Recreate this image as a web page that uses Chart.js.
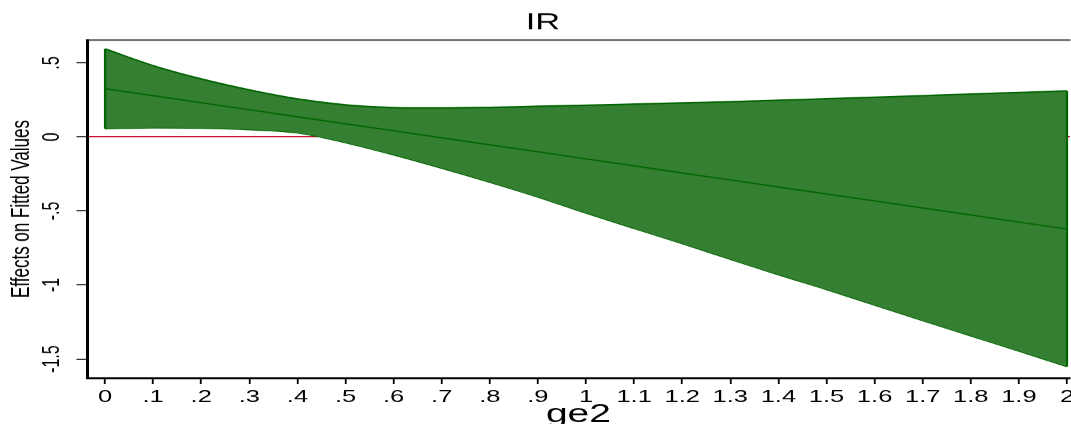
<!DOCTYPE html>
<html>
<head>
<meta charset="utf-8">
<script src="https://cdn.jsdelivr.net/npm/chart.js@4/dist/chart.umd.min.js"></script>
<style>
  html, body { margin: 0; padding: 0; background: #fff; overflow: hidden; }
  /* the reference graph is stretched sideways, so draw narrow and stretch */
  #wrap { width: 714px; height: 424px; transform: scaleX(1.5); transform-origin: 0 0; }
</style>
</head>
<body>
<div id="wrap"><canvas id="ir"></canvas></div>
<script>
// values
const ge2   = [0, 0.1, 0.2, 0.3, 0.4, 0.5, 0.6, 0.7, 0.8, 0.9, 1.0, 1.1, 1.2, 1.3, 1.4, 1.5, 1.6, 1.7, 1.8, 1.9, 2.0];
const fit   = [0.326, 0.279, 0.231, 0.184, 0.136, 0.089, 0.042, -0.006, -0.053, -0.100, -0.148, -0.195, -0.243, -0.290, -0.338, -0.385, -0.432, -0.480, -0.527, -0.575, -0.622];
const upper = [0.595, 0.482, 0.392, 0.318, 0.257, 0.217, 0.199, 0.196, 0.200, 0.207, 0.214, 0.222, 0.230, 0.238, 0.248, 0.258, 0.268, 0.279, 0.290, 0.300, 0.311];
const lower = [0.056, 0.062, 0.060, 0.050, 0.028, -0.038, -0.120, -0.210, -0.305, -0.405, -0.514, -0.617, -0.720, -0.825, -0.930, -1.030, -1.135, -1.240, -1.343, -1.446, -1.550];

const xTickValues = [0, 0.1, 0.2, 0.3, 0.4, 0.5, 0.6, 0.7, 0.8, 0.9, 1, 1.1, 1.2, 1.3, 1.4, 1.5, 1.6, 1.7, 1.8, 1.9, 2];
const xTickLabels = ['0', '.1', '.2', '.3', '.4', '.5', '.6', '.7', '.8', '.9', '1', '1.1', '1.2', '1.3', '1.4', '1.5', '1.6', '1.7', '1.8', '1.9', '2'];
const yTickValues = [-1.5, -1, -0.5, 0, 0.5];
const yTickLabels = ['-1.5', '-1', '-.5', '0', '.5'];

const bandFill = '#357f32';
const bandEdge = '#006400';
const zeroRed = '#c8102e';
const sans = 'Liberation Sans, Arial, sans-serif';

const pts = ys => ge2.map((x, i) => ({ x: x, y: ys[i] }));
const last = ge2.length - 1;

const ctx = document.getElementById('ir').getContext('2d');
new Chart(ctx, {
  type: 'line',
  data: {
    datasets: [
      { // fitted line on top
        data: pts(fit),
        borderColor: bandEdge, borderWidth: 1.3, pointRadius: 0, fill: false
      },
      { // closing edges of the band
        data: [{ x: ge2[0], y: lower[0] }, { x: ge2[0], y: upper[0] }],
        borderColor: bandEdge, borderWidth: 1.5, pointRadius: 0, fill: false
      },
      {
        data: [{ x: ge2[last], y: lower[last] }, { x: ge2[last], y: upper[last] }],
        borderColor: bandEdge, borderWidth: 1.5, pointRadius: 0, fill: false
      },
      { // upper bound, filled down to lower bound
        data: pts(upper),
        borderColor: bandEdge, borderWidth: 1.5, pointRadius: 0,
        cubicInterpolationMode: 'monotone',
        backgroundColor: bandFill, fill: '+1'
      },
      {
        data: pts(lower),
        borderColor: bandEdge, borderWidth: 1.5, pointRadius: 0,
        cubicInterpolationMode: 'monotone', fill: false
      }
    ]
  },
  options: {
    responsive: true,
    maintainAspectRatio: false,
    devicePixelRatio: 1.5,
    animation: false,
    layout: { padding: { left: 10, right: 0, top: 0, bottom: 0 } },
    plugins: {
      legend: { display: false },
      tooltip: { enabled: false },
      title: {
        display: true,
        text: 'IR',
        color: '#000',
        font: { family: sans, size: 23, weight: 'normal' },
        padding: { top: 9, bottom: 3.4 }
      }
    },
    scales: {
      x: {
        type: 'linear',
        position: 'bottom',
        min: -0.0375,
        max: 2.006,
        afterBuildTicks: s => { s.ticks = xTickValues.map(v => ({ value: v })); },
        afterFit: s => { s.height = 46; s.paddingLeft = 0; s.paddingRight = 0; },
        ticks: {
          autoSkip: false, maxRotation: 0, minRotation: 0,
          color: '#000', padding: 3,
          font: { family: sans, size: 17 },
          callback: (v, i) => xTickLabels[i]
        },
        grid: { drawOnChartArea: false, drawTicks: true, tickLength: 6, tickColor: '#000', tickWidth: 1.2 },
        border: { display: true, color: '#000', width: 2 },
        title: {
          display: true, text: 'ge2', color: '#000',
          font: { family: sans, size: 26, lineHeight: 0.7 },
          padding: 0
        }
      },
      x2: {
        type: 'linear',
        position: 'top',
        min: -0.0375,
        max: 2.006,
        afterFit: s => { s.height = 0; s.paddingLeft = 0; s.paddingRight = 0; },
        ticks: { display: false },
        grid: { drawOnChartArea: false, drawTicks: false },
        border: { display: true, color: '#555', width: 1.5 }
      },
      y: {
        type: 'linear',
        position: 'left',
        min: -1.628,
        max: 0.655,
        afterBuildTicks: s => { s.ticks = yTickValues.map(v => ({ value: v })); },
        afterFit: s => { s.width = 48; s.paddingTop = 0; s.paddingBottom = 0; },
        ticks: {
          autoSkip: false, minRotation: 90, maxRotation: 90,
          crossAlign: 'center',
          color: '#000', padding: 2,
          font: { family: sans, size: 16 },
          callback: v => yTickLabels[yTickValues.indexOf(v)]
        },
        grid: {
          drawTicks: true, tickLength: 7, tickColor: '#222', tickWidth: 1.2,
          color: c => (c.tick && c.tick.value === 0 ? zeroRed : 'rgba(0,0,0,0)'),
          lineWidth: 1.4
        },
        border: { display: true, color: '#000', width: 2 },
        title: {
          display: true, text: 'Effects on Fitted Values', color: '#000',
          font: { family: sans, size: 17, lineHeight: 1.2 },
          padding: { top: -5.7, bottom: 0 }
        }
      }
    }
  }
});
</script>
</body>
</html>
